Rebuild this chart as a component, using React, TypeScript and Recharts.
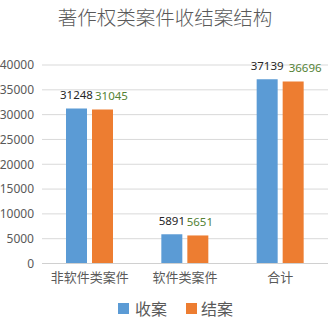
import React from "react";
import { BarChart, Bar, XAxis, YAxis, CartesianGrid, LabelList } from "recharts";

const categories = ["非软件类案件", "软件类案件", "合计"];
const received = [31248, 5891, 37139];
const closed = [31045, 5651, 36696];
const yTicks = [0, 5000, 10000, 15000, 20000, 25000, 30000, 35000, 40000];

const data = categories.map((name, i) => ({
  name,
  received: received[i],
  closed: closed[i],
}));

const BLUE = "#5B9BD5";
const ORANGE = "#ED7D31";
const GRAY = "#595959";
const NUM_FONT = "'Noto Sans', 'Noto Sans CJK SC', sans-serif";
const CJK_FONT = "'Noto Sans CJK SC', 'Noto Sans', sans-serif";

// excel nudges the orange labels right when they'd collide with the blue ones
const closedLabelShift = [9, 2, 12];

function makeLabel(color: string, shifts?: number[]) {
  return (props: any) => {
    const { x, y, width, value, index } = props;
    const dx = shifts ? shifts[index] || 0 : 0;
    return (
      <text
        x={Number(x) + Number(width) / 2 + dx}
        y={Number(y) - 9}
        textAnchor="middle"
        fontSize={11.5}
        fontFamily={NUM_FONT}
        fill={color}
      >
        {value}
      </text>
    );
  };
}

export default function App() {
  return (
    <div
      style={{
        position: "absolute",
        left: 0,
        top: 0,
        width: 335,
        height: 319,
        background: "#fff",
      }}
    >
      <div
        style={{
          position: "absolute",
          left: 0,
          top: 4,
          width: 330,
          textAlign: "center",
          fontFamily: CJK_FONT,
          fontSize: 19.5,
          fontWeight: 300,
          color: GRAY,
          lineHeight: "25px",
        }}
      >
        著作权类案件收结案结构
      </div>
      <BarChart
        width={335}
        height={319}
        data={data}
        margin={{ top: 65, right: 7, bottom: 0, left: 0 }}
        barSize={21}
        barGap={5}
      >
        <CartesianGrid vertical={false} stroke="#d9d9d9" />
        <XAxis
          dataKey="name"
          height={55.5}
          axisLine={{ stroke: "#d0d0d0" }}
          tickLine={false}
          tick={{ fontSize: 13, fill: GRAY, fontFamily: CJK_FONT }}
          dy={1}
        />
        <YAxis
          width={42}
          domain={[0, 40000]}
          ticks={yTicks}
          axisLine={false}
          tickLine={false}
          tick={{ fontSize: 12, fill: GRAY, fontFamily: NUM_FONT }}
        />
        <Bar dataKey="received" fill={BLUE} isAnimationActive={false}>
          <LabelList dataKey="received" content={makeLabel("#262626")} />
        </Bar>
        <Bar dataKey="closed" fill={ORANGE} isAnimationActive={false}>
          <LabelList
            dataKey="closed"
            content={makeLabel("#548235", closedLabelShift)}
          />
        </Bar>
      </BarChart>
      <div
        style={{
          position: "absolute",
          left: 118,
          top: 298,
          display: "flex",
          alignItems: "center",
          fontFamily: CJK_FONT,
          fontSize: 16,
          color: GRAY,
          lineHeight: "20px",
        }}
      >
        <span style={{ width: 11, height: 11, background: BLUE, display: "inline-block" }} />
        <span style={{ marginLeft: 6 }}>收案</span>
        <span
          style={{
            width: 11,
            height: 11,
            background: ORANGE,
            display: "inline-block",
            marginLeft: 19,
          }}
        />
        <span style={{ marginLeft: 4 }}>结案</span>
      </div>
    </div>
  );
}
